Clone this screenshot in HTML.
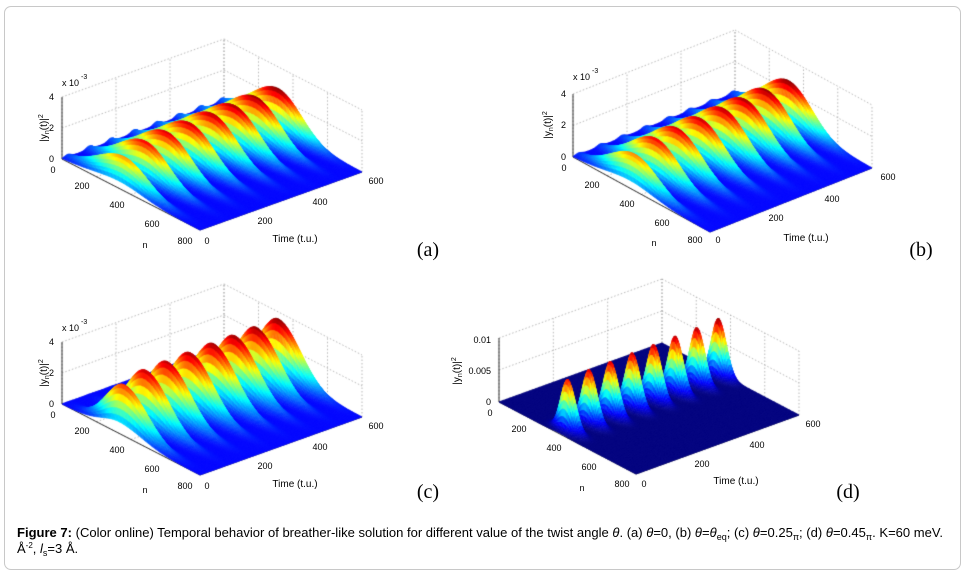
<!DOCTYPE html>
<html><head><meta charset="utf-8"><style>
html,body{margin:0;padding:0;background:#fff;}
#wrap{position:relative;width:968px;height:577px;overflow:hidden;}
#frame{position:absolute;left:4px;top:6px;width:957px;height:564px;border:1.5px solid #c8c8c8;border-radius:7px;box-sizing:border-box;}
canvas,svg{position:absolute;left:0;top:0;}
text{font-family:"Liberation Sans",Arial,sans-serif;fill:#000;}
.tk{font-size:9px;}
.pl{font-family:"Liberation Serif",serif;font-size:20px;}
</style></head><body>
<div id="wrap">
<div id="frame"></div>
<canvas id="cv" width="968" height="577"></canvas>
<svg width="968" height="577">
<g>
 <text class="tk" x="54" y="100" text-anchor="end">4</text>
 <text class="tk" x="54" y="131" text-anchor="end">2</text>
 <text class="tk" x="54" y="162" text-anchor="end">0</text>
 <text class="tk" x="62" y="86">x 10</text><text class="tk" x="81" y="79" style="font-size:7px">-3</text>
 <text class="tk" transform="translate(47,128) rotate(-90)" text-anchor="middle" style="font-size:10px">|y<tspan style="font-size:7px" dy="2">n</tspan><tspan dy="-2">(t)|</tspan><tspan style="font-size:7px" dy="-4">2</tspan></text>
 <text class="tk" x="53" y="173" text-anchor="middle">0</text>
 <text class="tk" x="82" y="189" text-anchor="middle">200</text>
 <text class="tk" x="117" y="208" text-anchor="middle">400</text>
 <text class="tk" x="152" y="227" text-anchor="middle">600</text>
 <text class="tk" x="185" y="244" text-anchor="middle">800</text>
 <text class="tk" x="145" y="248" text-anchor="middle">n</text>
 <text class="tk" x="207" y="244" text-anchor="middle">0</text>
 <text class="tk" x="265" y="224" text-anchor="middle">200</text>
 <text class="tk" x="320" y="205" text-anchor="middle">400</text>
 <text class="tk" x="376" y="184" text-anchor="middle">600</text>
 <text class="tk" x="295" y="242" text-anchor="middle" style="font-size:10px">Time (t.u.)</text>
 <text class="pl" x="428" y="256" text-anchor="middle">(a)</text>
</g>
<g>
 <text class="tk" x="566" y="97" text-anchor="end">4</text>
 <text class="tk" x="566" y="128" text-anchor="end">2</text>
 <text class="tk" x="566" y="160" text-anchor="end">0</text>
 <text class="tk" x="573" y="80">x 10</text><text class="tk" x="592" y="73" style="font-size:7px">-3</text>
 <text class="tk" transform="translate(551,125) rotate(-90)" text-anchor="middle" style="font-size:10px">|y<tspan style="font-size:7px" dy="2">n</tspan><tspan dy="-2">(t)|</tspan><tspan style="font-size:7px" dy="-4">2</tspan></text>
 <text class="tk" x="564" y="171" text-anchor="middle">0</text>
 <text class="tk" x="592" y="188" text-anchor="middle">200</text>
 <text class="tk" x="627" y="207" text-anchor="middle">400</text>
 <text class="tk" x="662" y="226" text-anchor="middle">600</text>
 <text class="tk" x="695" y="243" text-anchor="middle">800</text>
 <text class="tk" x="654" y="246" text-anchor="middle">n</text>
 <text class="tk" x="718" y="243" text-anchor="middle">0</text>
 <text class="tk" x="776" y="221" text-anchor="middle">200</text>
 <text class="tk" x="832" y="202" text-anchor="middle">400</text>
 <text class="tk" x="888" y="180" text-anchor="middle">600</text>
 <text class="tk" x="806" y="241" text-anchor="middle" style="font-size:10px">Time (t.u.)</text>
 <text class="pl" x="921" y="256" text-anchor="middle">(b)</text>
</g>
<g transform="translate(0,245)">
 <text class="tk" x="54" y="100" text-anchor="end">4</text>
 <text class="tk" x="54" y="131" text-anchor="end">2</text>
 <text class="tk" x="54" y="162" text-anchor="end">0</text>
 <text class="tk" x="62" y="86">x 10</text><text class="tk" x="81" y="79" style="font-size:7px">-3</text>
 <text class="tk" transform="translate(47,128) rotate(-90)" text-anchor="middle" style="font-size:10px">|y<tspan style="font-size:7px" dy="2">n</tspan><tspan dy="-2">(t)|</tspan><tspan style="font-size:7px" dy="-4">2</tspan></text>
 <text class="tk" x="53" y="173" text-anchor="middle">0</text>
 <text class="tk" x="82" y="189" text-anchor="middle">200</text>
 <text class="tk" x="117" y="208" text-anchor="middle">400</text>
 <text class="tk" x="152" y="227" text-anchor="middle">600</text>
 <text class="tk" x="185" y="244" text-anchor="middle">800</text>
 <text class="tk" x="145" y="248" text-anchor="middle">n</text>
 <text class="tk" x="207" y="244" text-anchor="middle">0</text>
 <text class="tk" x="265" y="224" text-anchor="middle">200</text>
 <text class="tk" x="320" y="205" text-anchor="middle">400</text>
 <text class="tk" x="376" y="184" text-anchor="middle">600</text>
 <text class="tk" x="295" y="242" text-anchor="middle" style="font-size:10px">Time (t.u.)</text>
 <text class="pl" x="428" y="253" text-anchor="middle">(c)</text>
</g>
<g transform="translate(437,243)">
 <text class="tk" x="54" y="100" text-anchor="end">0.01</text>
 <text class="tk" x="54" y="131" text-anchor="end">0.005</text>
 <text class="tk" x="54" y="162" text-anchor="end">0</text>
 <text class="tk" transform="translate(23,128) rotate(-90)" text-anchor="middle" style="font-size:10px">|y<tspan style="font-size:7px" dy="2">n</tspan><tspan dy="-2">(t)|</tspan><tspan style="font-size:7px" dy="-4">2</tspan></text>
 <text class="tk" x="53" y="173" text-anchor="middle">0</text>
 <text class="tk" x="82" y="189" text-anchor="middle">200</text>
 <text class="tk" x="117" y="208" text-anchor="middle">400</text>
 <text class="tk" x="152" y="227" text-anchor="middle">600</text>
 <text class="tk" x="185" y="244" text-anchor="middle">800</text>
 <text class="tk" x="145" y="248" text-anchor="middle">n</text>
 <text class="tk" x="207" y="244" text-anchor="middle">0</text>
 <text class="tk" x="265" y="224" text-anchor="middle">200</text>
 <text class="tk" x="320" y="205" text-anchor="middle">400</text>
 <text class="tk" x="376" y="184" text-anchor="middle">600</text>
 <text class="tk" x="299" y="241" text-anchor="middle" style="font-size:10px">Time (t.u.)</text>
 <text class="pl" x="411" y="255" text-anchor="middle">(d)</text>
</g>
<g>
 <text x="17" y="537" style="font-size:13px" textLength="926" lengthAdjust="spacingAndGlyphs"><tspan font-weight="bold">Figure 7:</tspan> (Color online) Temporal behavior of breather-like solution for different value of the twist angle <tspan font-style="italic">θ</tspan>. (a)  <tspan font-style="italic">θ</tspan>=0, (b)  <tspan font-style="italic">θ</tspan>=<tspan font-style="italic">θ</tspan><tspan style="font-size:9px" dy="3">eq</tspan><tspan dy="-3">; (c)  </tspan><tspan font-style="italic">θ</tspan>=0.25<tspan style="font-size:9px" dy="3">π</tspan><tspan dy="-3">; (d)  </tspan><tspan font-style="italic">θ</tspan>=0.45<tspan style="font-size:9px" dy="3">π</tspan><tspan dy="-3">. K=60 meV.</tspan></text>
 <text x="17" y="553" style="font-size:13px">Å<tspan style="font-size:8px" dy="-5">-2</tspan><tspan dy="5">, </tspan><tspan font-style="italic">l</tspan><tspan style="font-size:9px" dy="3">s</tspan><tspan dy="-3">=3 Å.</tspan></text>
</g>
</svg>
</div>
<script>
// ---- data ----
const ridgeTimesA = [20,100,180,265,350,430,510,590];
const ridgeAmpsA  = [1.9e-3,2.4e-3,2.5e-3,2.55e-3,2.6e-3,2.65e-3,2.7e-3,2.75e-3];
const ridgeTimesB = [20,100,180,265,350,430,510,590];
const ridgeAmpsB  = [2.0e-3,2.45e-3,2.55e-3,2.6e-3,2.65e-3,2.7e-3,2.75e-3,2.8e-3];
const ridgeTimesC = [20,100,180,265,350,430,510,590];
const ridgeAmpsC  = [3.0e-3,3.45e-3,3.5e-3,3.55e-3,3.6e-3,3.62e-3,3.65e-3,3.7e-3];
const ridgeTimesD = [32,111,190,270,349,428,508,587];
const ridgeAmpsD  = [8.0e-3,8.3e-3,8.4e-3,8.5e-3,8.6e-3,8.7e-3,8.8e-3,9.0e-3];
const nTicks = [0,200,400,600,800];
const tTicks = [0,200,400,600];

const panels = [
 {times:ridgeTimesA, amps:ridgeAmpsA, ox:62, oy:159, nx:138, ny:71, tx:162, ty:-58, zh:62, zmax:4e-3, n0:330, sL:150, sR:135, st:12, cmin:-0.15},
 {times:ridgeTimesB, amps:ridgeAmpsB, ox:573, oy:157, nx:137, ny:75, tx:162, ty:-64, zh:63, zmax:4e-3, n0:330, sL:140, sR:135, st:12, cmin:-0.15},
 {times:ridgeTimesC, amps:ridgeAmpsC, ox:62, oy:404, nx:138, ny:71, tx:162, ty:-58, zh:62, zmax:4e-3, n0:330, sL:100, sR:130, st:12, cmin:-0.15},
 {times:ridgeTimesD, amps:ridgeAmpsD, ox:499, oy:402, nx:137, ny:72, tx:163, ty:-59, zh:64, zmax:0.01, n0:350, sL:35, sR:42, st:11, cmin:0}
];

const cv = document.getElementById('cv');
const ctx = cv.getContext('2d');

function jet(v){
  v = Math.max(0, Math.min(1, v));
  const c = x => Math.round(255*Math.max(0, Math.min(1, x)));
  return 'rgb(' + c(1.5-Math.abs(4*v-3)) + ',' + c(1.5-Math.abs(4*v-2)) + ',' + c(1.5-Math.abs(4*v-1)) + ')';
}

function drawPanel(p){
  const P = (n,t,z) => [p.ox + n/800*p.nx + t/600*p.tx, p.oy + n/800*p.ny + t/600*p.ty - z/p.zmax*p.zh];
  const Z = (n,t) => {
    const d = n - p.n0;
    const g = Math.exp(-d*d/(2*Math.pow(d<0?p.sL:p.sR,2)));
    let s = 0;
    for (let k=0;k<p.times.length;k++){ const u=t-p.times[k]; s += p.amps[k]*Math.exp(-u*u/(2*p.st*p.st)); }
    return s*g;
  };
  ctx.save();
  ctx.strokeStyle = '#9a9a9a'; ctx.lineWidth = 0.7; ctx.setLineDash([1.5,2]);
  const line = (a,b) => { ctx.beginPath(); ctx.moveTo(a[0],a[1]); ctx.lineTo(b[0],b[1]); ctx.stroke(); };
  const zt = [0, 0.5*p.zmax, p.zmax];
  for (const t of tTicks) line(P(0,t,0), P(0,t,p.zmax));
  for (const n of nTicks) line(P(n,600,0), P(n,600,p.zmax));
  for (const z of zt){ line(P(0,0,z), P(0,600,z)); line(P(0,600,z), P(800,600,z)); }
  for (const t of tTicks) line(P(0,t,0), P(800,t,0));
  for (const n of nTicks) line(P(n,0,0), P(n,600,0));
  ctx.setLineDash([]);
  ctx.strokeStyle = '#000'; ctx.lineWidth = 0.8;
  line(P(0,0,0), P(0,0,p.zmax));
  line(P(0,0,0), P(800,0,0));
  line(P(800,0,0), P(800,600,0));
  ctx.restore();
  const dn = 8, dt = 3, quads = [];
  for (let n=0;n<800;n+=dn) for (let t=0;t<600;t+=dt){
    quads.push([n,t, n/800 - t/600]);
  }
  quads.sort((a,b)=>a[2]-b[2]);
  let zmaxData = 0;
  for (let k=0;k<p.amps.length;k++) zmaxData = Math.max(zmaxData, p.amps[k]);
  for (const q of quads){
    const n=q[0], t=q[1];
    const z1=Z(n,t), z2=Z(n+dn,t), z3=Z(n+dn,t+dt), z4=Z(n,t+dt);
    const a=P(n,t,z1), b=P(n+dn,t,z2), c=P(n+dn,t+dt,z3), d=P(n,t+dt,z4);
    const v = ((z1+z2+z3+z4)/4/zmaxData - p.cmin)/(1-p.cmin);
    const col = jet(v);
    ctx.fillStyle = col; ctx.strokeStyle = col; ctx.lineWidth = 0.6;
    ctx.beginPath(); ctx.moveTo(a[0],a[1]); ctx.lineTo(b[0],b[1]); ctx.lineTo(c[0],c[1]); ctx.lineTo(d[0],d[1]); ctx.closePath();
    ctx.fill(); ctx.stroke();
  }
}
panels.forEach(drawPanel);
</script>
</body></html>
